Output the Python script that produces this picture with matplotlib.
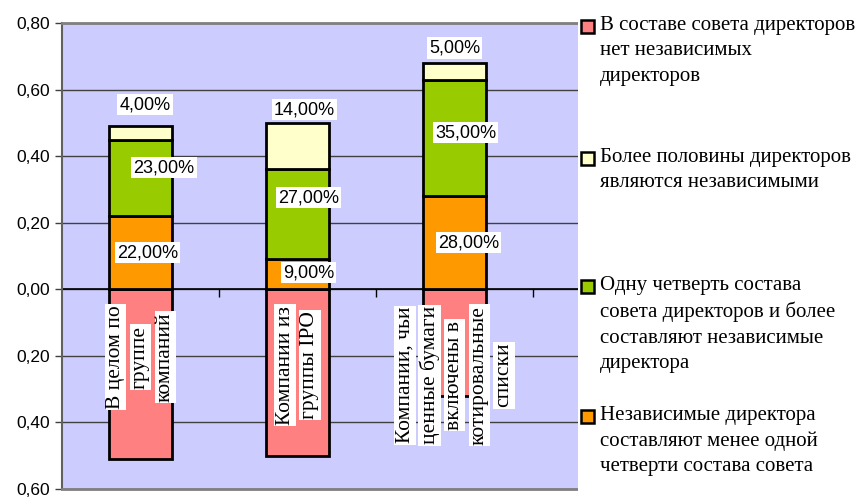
import numpy as np
import matplotlib.pyplot as plt
from matplotlib.patches import Rectangle
from matplotlib.ticker import FuncFormatter

# categories (each label line is drawn as its own rotated column)
categories = [
    ["В целом по", "группе", "компаний"],
    ["Компании из", "группы IPO"],
    ["Компании, чьи", "ценные бумаги", "включены в", "котировальные", "списки"],
]

# shares per category
no_independent = [-0.51, -0.50, -0.32]   # drawn below zero
less_quarter = [0.22, 0.09, 0.28]
quarter_more = [0.23, 0.27, 0.35]
over_half = [0.04, 0.14, 0.05]

legend_labels = [
    "В составе совета директоров\nнет независимых\nдиректоров",
    "Более половины директоров\nявляются независимыми",
    "Одну четверть состава\nсовета директоров и более\nсоставляют независимые\nдиректора",
    "Независимые директора\nсоставляют менее одной\nчетверти состава совета",
]

PINK = '#FF8080'
YELLOW = '#FFFFCC'
GREEN = '#99CC00'
ORANGE = '#FF9900'
BG = '#CCCCFF'

SANS = 'Liberation Sans'
SERIF = 'Liberation Serif'

fig = plt.figure(figsize=(8.61, 4.98), dpi=100)
ax = fig.add_axes([62 / 861, 9 / 498, 628 / 861, 466 / 498])
ax.set_facecolor(BG)

x = np.arange(len(categories))
w = 0.4
edge = dict(edgecolor='black', linewidth=2.0, zorder=3)

neg = np.array(no_independent)
b1 = np.array(less_quarter)
b2 = b1 + np.array(quarter_more)

ax.bar(x, neg, w, color=PINK, **edge)
ax.bar(x, less_quarter, w, color=ORANGE, **edge)
ax.bar(x, quarter_more, w, bottom=b1, color=GREEN, **edge)
ax.bar(x, over_half, w, bottom=b2, color=YELLOW, **edge)

ax.set_xlim(-0.5, 3.5)
ax.set_ylim(-0.6, 0.8)
ax.set_yticks(np.arange(-0.6, 0.81, 0.2))
ax.yaxis.set_major_formatter(FuncFormatter(lambda v, p: f"{abs(v):.2f}".replace('.', ',')))
ax.tick_params(axis='y', labelsize=12.5, length=5, width=1, color='#404040')
for t in ax.get_yticklabels():
    t.set_fontfamily(SANS)
ax.set_xticks([])

ax.grid(axis='y', color='#404040', linewidth=1)
ax.set_axisbelow(True)
ax.spines['right'].set_visible(False)
ax.spines['top'].set_color('#808080')
ax.spines['top'].set_linewidth(2)
ax.spines['left'].set_color('#606060')
ax.spines['left'].set_linewidth(1.5)
ax.spines['bottom'].set_color('#808080')
ax.spines['bottom'].set_linewidth(2)

# category axis at zero with tick marks between categories
ax.axhline(0, color='black', linewidth=1.2, zorder=2)
ax.vlines([0.5, 1.5, 2.5], -0.022, 0, color='black', linewidth=1, zorder=2)

# value labels (offsets mimic the hand-moved labels of the original)
label_dx = [[0.045, 0.15, 0.03], [0.07, 0.07, 0.045], [0.09, 0.07, 0.0]]
label_dy = [[0.0, 0.03, 0.085], [0.005, 0.05, 0.11], [0.0, 0.016, 0.07]]
box = dict(facecolor='white', edgecolor='none', pad=1.5)
for i in range(len(categories)):
    segs = [(less_quarter[i], 0), (quarter_more[i], b1[i]), (over_half[i], b2[i])]
    for j, (v, bot) in enumerate(segs):
        ax.text(x[i] + label_dx[i][j], bot + v / 2 + label_dy[i][j],
                f"{v * 100:.2f}%".replace('.', ','), ha='center', va='center',
                fontsize=13, family=SANS, bbox=box, zorder=5)

# rotated category labels inside the negative area
label_y = [-0.204, -0.228, -0.258]
col_step = 0.158
for i, lines in enumerate(categories):
    n = len(lines)
    for k, line in enumerate(lines):
        ax.text(x[i] + (k - (n - 1) / 2) * col_step, label_y[i], line,
                rotation=90, ha='center', va='center', fontsize=15.5,
                family=SERIF, bbox=dict(facecolor='white', edgecolor='none', pad=1),
                zorder=5)

# legend panel on the right, covering the end of the plot area
fig.patches.append(Rectangle((578 / 861, 0), 1, 1, transform=fig.transFigure,
                             facecolor='white', edgecolor='none', zorder=2))
leg_colors = [PINK, YELLOW, GREEN, ORANGE]
leg_top = [16, 148, 276, 406]
for c, lab, top in zip(leg_colors, legend_labels, leg_top):
    fig.patches.append(Rectangle((581 / 861, 1 - (top + 17) / 498), 13 / 861, 13 / 498,
                                 transform=fig.transFigure, facecolor=c,
                                 edgecolor='black', linewidth=1.8, zorder=3))
    fig.text(600 / 861, 1 - top / 498, lab, ha='left', va='top', fontsize=15,
             family=SERIF, linespacing=1.45, zorder=4)

fig.savefig('out.png', dpi=100)
